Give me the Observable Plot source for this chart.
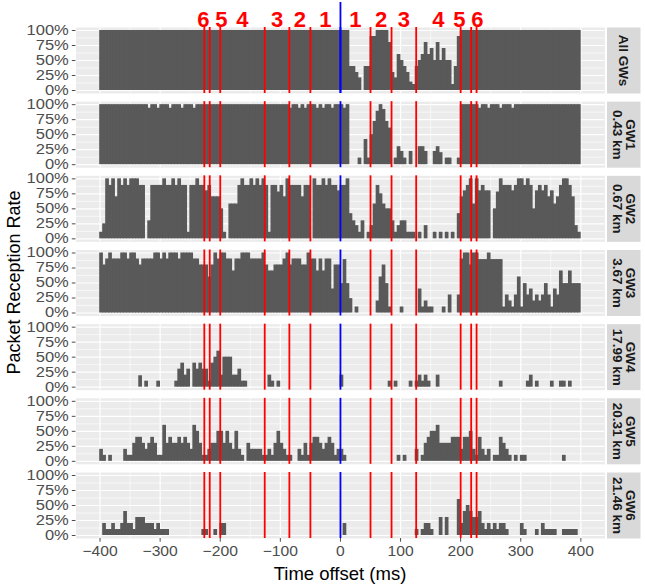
<!DOCTYPE html>
<html><head><meta charset="utf-8">
<script src="https://cdn.jsdelivr.net/npm/d3@7"></script>
<script src="https://cdn.jsdelivr.net/npm/@observablehq/plot@0.6"></script>
<style>
body{margin:0;background:#fff;}
svg{font-family:"Liberation Sans",Arial,Helvetica,sans-serif;}
</style>
</head><body><div id="chart"></div>
<script>
// Facet rows
const gateways = ["All GWs", "GW1", "GW2", "GW3", "GW4", "GW5", "GW6"];
const stripLabels = ["All GWs", "GW1\n0.43 km", "GW2\n0.67 km", "GW3\n3.67 km", "GW4\n17.99 km", "GW5\n20.31 km", "GW6\n21.46 km"];

// 5 ms bins starting at -400 ms (left edges)
const binStarts = d3.range(-400, 400, 5);
const binWidth = 5;

// Packet reception rate (%) per bin
const allGWs = [
100,100,100,100,100,100,100,100,100,100,100,100,100,100,100,100,100,100,100,100,
100,100,100,100,100,100,100,100,100,100,100,100,100,100,100,100,100,100,100,100,
100,100,100,100,100,100,100,100,100,100,100,100,100,100,100,100,100,100,100,100,
100,100,100,100,100,100,100,100,100,100,100,100,100,100,100,100,100,100,100,100,
100,100,100,40,40,30,21,0,40,40,90,90,100,100,100,100,80,30,21,60,
50,40,30,14,10,40,50,60,80,60,70,50,80,50,70,50,50,10,40,90,
100,100,100,100,100,100,100,100,100,100,100,100,100,100,100,100,100,100,100,100,
100,100,100,100,100,100,100,100,100,100,100,100,100,100,100,100,100,100,100,100];
const gw1 = [
100,100,100,100,100,100,100,100,100,100,100,100,100,100,100,100,94,100,100,94,
100,100,100,94,100,100,100,94,100,100,100,94,100,100,100,100,100,100,100,100,
100,100,100,100,100,100,100,100,100,100,100,100,100,100,100,100,100,100,100,100,
100,100,100,94,100,100,94,100,94,100,100,100,94,100,94,100,100,94,100,100,
100,94,100,0,0,0,11,0,42,11,50,72,89,100,92,72,61,0,11,30,
22,11,0,22,0,0,30,30,22,0,0,22,30,20,0,11,11,0,0,11,
100,100,100,100,100,100,94,100,100,94,100,100,100,94,100,100,100,94,100,100,
100,100,100,100,100,100,100,100,100,100,100,100,100,100,100,100,100,100,100,100];
const gw2 = [
11,25,100,89,100,70,100,89,100,89,100,100,100,89,89,0,30,89,89,89,
89,100,89,89,100,89,100,89,89,11,89,89,100,89,89,80,89,70,70,70,
50,11,0,58,58,58,89,100,89,89,100,89,100,89,100,89,11,89,89,78,
89,70,100,89,89,89,89,70,89,89,0,100,89,89,100,89,100,89,89,80,
89,89,100,42,30,22,11,30,0,11,22,58,89,75,58,50,50,30,11,22,
30,30,11,11,11,0,11,0,22,0,0,11,0,11,0,11,0,11,0,42,
70,80,89,100,58,100,80,89,80,80,0,50,78,100,89,89,89,80,89,100,
100,89,100,89,50,80,89,80,89,70,80,58,70,89,100,100,89,70,22,11];
const gw3 = [
100,80,90,100,90,90,90,100,100,90,100,100,90,80,90,90,90,90,100,100,
90,100,90,100,100,100,90,100,100,100,100,90,90,80,80,80,60,80,100,90,
100,100,90,90,70,90,90,100,100,100,90,90,90,90,100,80,70,70,80,80,
80,90,100,80,90,90,90,80,80,100,90,90,70,90,70,90,90,40,80,80,
49,89,49,24,0,10,0,0,0,0,0,0,20,60,80,49,10,0,0,0,
10,0,0,0,0,0,40,10,20,10,10,0,0,0,10,0,30,0,0,30,
90,100,100,80,100,100,89,89,89,100,89,89,89,89,10,30,20,10,30,60,
10,49,30,40,20,30,20,30,49,30,10,40,30,70,49,49,70,49,49,49];
const gw4 = [
0,0,0,0,0,0,0,0,0,0,0,0,0,19,0,10,0,0,0,10,
0,0,0,0,0,10,30,40,20,30,0,40,30,40,30,30,10,40,50,60,
20,50,50,50,20,20,30,10,10,0,0,0,0,0,0,0,20,10,0,10,
0,0,0,0,0,0,0,0,0,0,0,0,0,0,0,0,0,0,0,0,
20,0,0,0,0,0,0,0,0,0,0,0,0,0,0,0,10,0,10,0,
0,0,0,10,0,10,20,10,20,10,0,0,20,0,0,0,0,0,0,0,
0,0,0,0,0,0,0,0,0,0,0,0,0,10,0,0,0,0,0,0,
0,0,10,20,0,10,0,0,0,0,10,0,0,10,10,0,10,0,0,0];
const gw5 = [
20,10,0,10,0,0,0,0,20,10,10,30,40,40,30,20,30,40,30,10,
10,60,30,40,30,30,40,30,40,30,20,60,50,30,10,10,20,30,30,50,
50,30,50,30,20,50,20,10,0,30,20,20,20,20,10,10,20,10,30,50,
30,20,10,10,0,0,20,10,30,10,30,40,40,30,20,30,40,30,10,20,
20,10,0,0,0,0,0,0,0,0,0,0,0,0,0,0,0,0,0,10,
0,10,0,0,0,20,0,10,30,40,50,50,60,30,30,30,30,40,40,40,
20,40,40,50,20,10,40,20,10,20,0,10,10,40,30,20,10,0,10,0,
10,10,0,0,0,0,0,0,0,0,0,0,0,0,10,0,0,0,0,0];
const gw6 = [
0,20,10,10,20,10,10,20,40,20,20,10,30,30,30,20,20,20,10,20,
10,10,10,0,0,0,0,0,0,0,0,0,0,0,10,10,0,0,10,0,
20,20,0,0,0,0,0,0,0,0,0,0,0,0,0,0,0,0,0,0,
0,0,0,0,0,0,0,0,0,0,0,0,0,0,0,0,0,0,0,0,
0,20,0,0,0,0,0,0,0,0,0,0,0,0,0,0,0,0,0,0,
0,0,0,0,0,10,0,10,20,20,10,0,0,30,0,30,0,0,0,60,
20,40,50,40,30,30,40,20,10,20,10,20,10,20,20,10,0,0,0,0,
20,10,0,0,0,10,0,20,10,10,10,10,0,0,10,10,10,10,10,0];
const series = [allGWs, gw1, gw2, gw3, gw4, gw5, gw6];

// Reference lines (ms)
const redLines = [-226.5, -217.5, -200, -126, -85, -50, 50, 85, 126, 200, 217.5, 226.5];
const blueLine = [0];
// Region numbers above the top panel
const regionLabelX = [-228, -198, -163, -105.5, -67.5, -25, 25, 67.5, 105.5, 163, 198, 228];
const regionLabelText = ["6", "5", "4", "3", "2", "1", "1", "2", "3", "4", "5", "6"];

// Axis ticks
const xTicks = [-400, -300, -200, -100, 0, 100, 200, 300, 400];
const xMinor = [-350, -250, -150, -50, 50, 150, 250, 350];
const yTicks = [0, 0.25, 0.5, 0.75, 1];
const yMinor = [0.125, 0.375, 0.625, 0.875];

// Build table
const bars = [];
gateways.forEach((g, k) => {
  series[k].forEach((v, i) => {
    bars.push({gw: g, x1: binStarts[i], x2: binStarts[i] + binWidth, rate: v / 100});
  });
});
const strips = gateways.map((g, k) => ({gw: g, label: stripLabels[k]}));
const topLabels = regionLabelX.map((x, i) => ({gw: gateways[0], x, t: regionLabelText[i]}));

const plot = Plot.plot({
  width: 645,
  height: 585,
  marginTop: 27,
  marginBottom: 47,
  marginLeft: 75.5,
  marginRight: 40.6,
  style: {fontFamily: '"Liberation Sans", Arial, Helvetica, sans-serif', background: "white", overflow: "visible"},
  x: {domain: [-440, 440], axis: null},
  y: {domain: [-0.05, 1.05], axis: null},
  fy: {domain: gateways, paddingInner: 0.11, paddingOuter: 0, round: false, axis: null, label: null},
  marks: [
    Plot.frame({fill: "#EBEBEB", stroke: "none"}),
    Plot.frame({fill: "#D9D9D9", stroke: "none", insetLeft: 531, insetRight: -35.6}),
    Plot.gridX(xMinor, {stroke: "white", strokeOpacity: 1, strokeWidth: 0.6}),
    Plot.gridY(yMinor, {stroke: "white", strokeOpacity: 1, strokeWidth: 0.6}),
    Plot.gridX(xTicks, {stroke: "white", strokeOpacity: 1, strokeWidth: 1.2}),
    Plot.gridY(yTicks, {stroke: "white", strokeOpacity: 1, strokeWidth: 1.2}),
    Plot.rectY(bars.filter(d => d.rate > 0), {x1: "x1", x2: "x2", y: "rate", fy: "gw", fill: "#595959", insetLeft: -0.35, insetRight: -0.35}),
    Plot.ruleX(redLines, {stroke: "#FF0000", strokeWidth: 1.8}),
    Plot.ruleX(blueLine, {stroke: "#0000FF", strokeWidth: 1.8}),
    Plot.ruleX([{x: blueLine[0], gw: gateways[0]}], {x: "x", fy: "gw", stroke: "#0000FF", strokeWidth: 1.8, insetTop: -25}),
    Plot.text(topLabels, {x: "x", fy: "gw", text: "t", frameAnchor: "top", lineAnchor: "middle", dy: -8, fontSize: 22, fontWeight: "bold", fill: "#FF0000"}),
    Plot.text(strips, {fy: "gw", text: "label", frameAnchor: "right", textAnchor: "middle", lineAnchor: "middle", dx: 18.9, rotate: 90, fontSize: 13.5, fontWeight: "bold", fill: "#1A1A1A", lineHeight: 1.0}),
    Plot.axisY({ticks: yTicks, tickFormat: d => Math.round(d * 100) + "%", tickSize: 3.7, tickPadding: 3.5, fontSize: 14, color: "#4D4D4D", label: null}),
    Plot.axisX({ticks: xTicks, tickSize: 3.7, tickPadding: 4, fontSize: 14.5, color: "#4D4D4D", label: null})
  ]
});

const svg = d3.select(plot);
svg.append("text")
  .attr("transform", "translate(14,282.5) rotate(-90)")
  .attr("text-anchor", "middle")
  .attr("dy", "0.35em")
  .attr("font-size", 18)
  .attr("fill", "black")
  .text("Packet Reception Rate");
svg.append("text")
  .attr("x", 340)
  .attr("y", 574)
  .attr("text-anchor", "middle")
  .attr("dy", "0.35em")
  .attr("font-size", 18.5)
  .attr("fill", "black")
  .text("Time offset (ms)");

document.getElementById("chart").appendChild(plot);

// The reference's tick labels are drawn slightly wider than the font's natural width
function widen(selector, factor) {
  svg.selectAll(selector).each(function() {
    const w = this.getComputedTextLength();
    if (w > 0) {
      this.setAttribute("textLength", (w * factor).toFixed(2));
      this.setAttribute("lengthAdjust", "spacingAndGlyphs");
    }
  });
}
widen('g[aria-label="y-axis tick label"] text', 1.18);
widen('g[aria-label="x-axis tick label"] text', 1.08);
</script>
</body></html>
